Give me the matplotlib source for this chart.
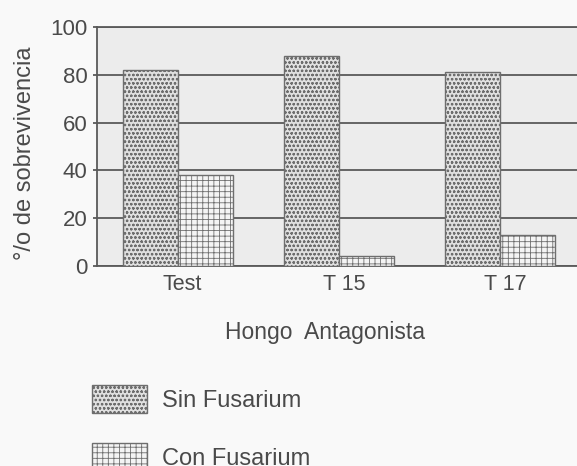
import matplotlib.pyplot as plt
import numpy as np

# data
hongos = ['Test', 'T 15', 'T 17']
sin_fusarium = [82, 88, 81]
con_fusarium = [38, 4, 13]

plt.rcParams['font.family'] = ['Liberation Sans', 'DejaVu Sans']
plt.rcParams['hatch.linewidth'] = 0.6
txt = '#4a4a4a'

fig = plt.figure(figsize=(5.77, 4.66), dpi=100, facecolor='#f9f9f9')
W, H = 577, 466
AX_R = 660  # axes runs past the right edge, like the cropped scan
ax = fig.add_axes([97 / W, 1 - 266 / H, (AX_R - 97) / W, (266 - 27) / H])
ax.set_facecolor('#ececec')

x = np.arange(len(hongos))
w = 0.34
ax.bar(x - w / 2, sin_fusarium, w, color='#e0e0e0', hatch='oooo',
       linewidth=1.0, label='Sin Fusarium', zorder=3)
ax.bar(x + w / 2, con_fusarium, w, color='#f4f4f4', hatch='+++',
       linewidth=1.0, label='Con Fusarium', zorder=3)
for p in ax.patches:
    p.set_edgecolor('#6e6e6e')

ax.set_ylim(0, 100)
ax.set_xlim(-0.50, 2.99)
ax.set_yticks([0, 20, 40, 60, 80, 100])
ax.yaxis.grid(True, color='#5a5a5a', linewidth=1.3, zorder=1)
ax.tick_params(axis='y', length=3, width=1.3, color='#5a5a5a', labelsize=16,
               labelcolor=txt, pad=4)
ax.set_xticks(x + 0.03)
ax.set_xticklabels(hongos)
ax.tick_params(axis='x', length=0, labelsize=15.5, labelcolor=txt, pad=6)
for s in ax.spines.values():
    s.set_color('#5a5a5a')
    s.set_linewidth(1.3)

ax.set_ylabel('°/o de sobrevivencia', fontsize=17, color=txt, va='center')
ax.yaxis.set_label_coords(-(97 - 25) / (AX_R - 97), 0.47)
ax.set_xlabel('Hongo  Antagonista', fontsize=16.5, color=txt, va='center')
ax.xaxis.set_label_coords((325 - 97) / (AX_R - 97), -(333 - 266) / (266 - 27))

fig.legend(loc='upper left', bbox_to_anchor=(71 / W, 1 - 364 / H), frameon=False,
           handlelength=2.3, handleheight=1.45, labelspacing=1.25, fontsize=17,
           labelcolor=txt, handletextpad=0.65)

plt.savefig('out.png', dpi=100, facecolor=fig.get_facecolor())
